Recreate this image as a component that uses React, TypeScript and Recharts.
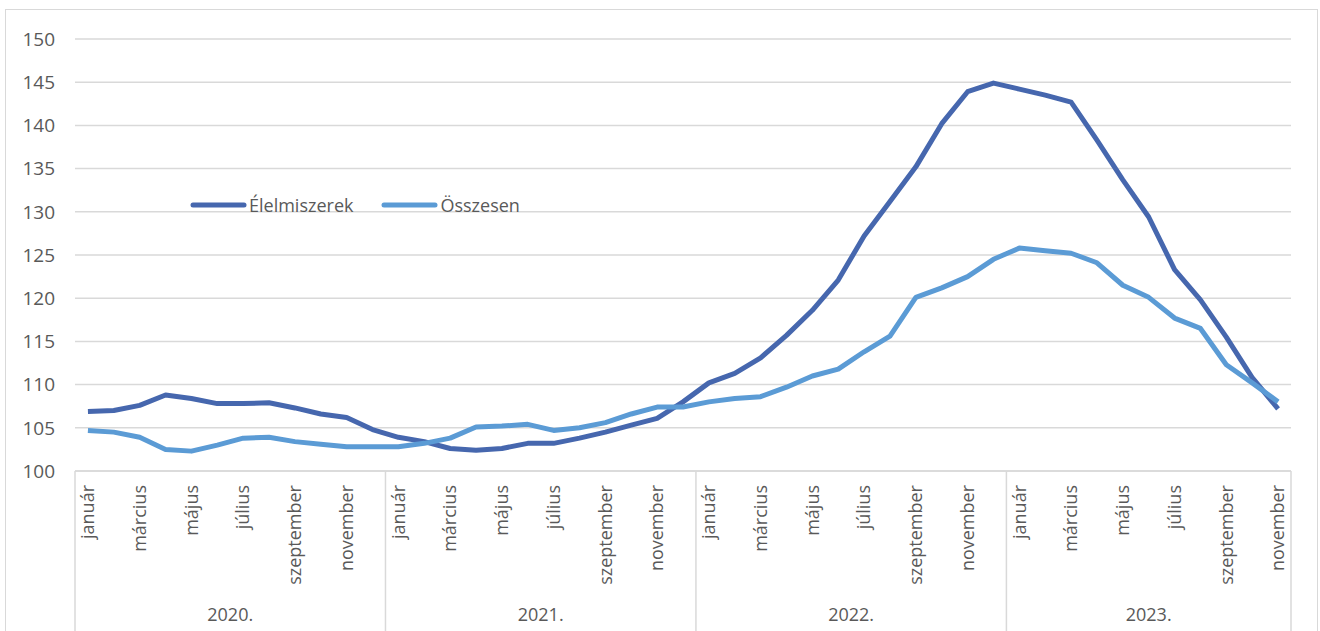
import { LineChart, Line, XAxis, YAxis, CartesianGrid, Legend } from 'recharts';

const monthNames = ['január', 'február', 'március', 'április', 'május', 'június', 'július', 'augusztus', 'szeptember', 'október', 'november', 'december'];
const yearLabels = ['2020.', '2021.', '2022.', '2023.'];
const monthsPerYear = [12, 12, 12, 11];

const elelmiszerek = [
  106.9, 107.0, 107.6, 108.8, 108.4, 107.8, 107.8, 107.9, 107.3, 106.6, 106.2, 104.8,
  103.9, 103.4, 102.6, 102.4, 102.6, 103.2, 103.2, 103.8, 104.5, 105.3, 106.1, 108.0,
  110.2, 111.3, 113.1, 115.7, 118.6, 122.1, 127.2, 131.2, 135.2, 140.2, 143.9, 144.9,
  144.2, 143.5, 142.7, 138.3, 133.7, 129.4, 123.3, 119.8, 115.5, 110.8, 107.2,
];

const osszesen = [
  104.7, 104.5, 103.9, 102.5, 102.3, 103.0, 103.8, 103.9, 103.4, 103.1, 102.8, 102.8,
  102.8, 103.2, 103.8, 105.1, 105.2, 105.4, 104.7, 105.0, 105.6, 106.6, 107.4, 107.4,
  108.0, 108.4, 108.6, 109.7, 111.0, 111.8, 113.8, 115.6, 120.1, 121.2, 122.5, 124.5,
  125.8, 125.5, 125.2, 124.1, 121.5, 120.1, 117.7, 116.5, 112.3, 110.2, 108.0,
];

const yTicks = [100, 105, 110, 115, 120, 125, 130, 135, 140, 145, 150];

const data: { key: string; month: string; year: string; yearIndex: number; elelmiszerek: number; osszesen: number }[] = [];
{
  let i = 0;
  yearLabels.forEach((year, yi) => {
    for (let m = 0; m < monthsPerYear[yi]; m++) {
      data.push({
        key: `${year}-${m}`,
        month: monthNames[m],
        year,
        yearIndex: yi,
        elelmiszerek: elelmiszerek[i],
        osszesen: osszesen[i],
      });
      i++;
    }
  });
}

const W = 1320;
const H = 631;
const M = { top: 39, right: 29, left: 0, bottom: 0 };
const Y_AXIS_W = 75;
const PLOT_W = W - M.left - M.right - Y_AXIS_W;
const BW = PLOT_W / data.length;
const AXIS_Y = 471;
const GRAY = '#d9d9d9';
const TEXT = '#595959';
const FONT = '"Open Sans", sans-serif';

const MonthTick = (props: any) => {
  const { x, index } = props;
  const d = data[index];
  if (!d) return null;
  const m = monthNames.indexOf(d.month);
  const parts: any[] = [];
  if (index % 2 === 0) {
    parts.push(
      <text key="m" x={x} y={AXIS_Y + 14} dy="0.35em" textAnchor="end" transform={`rotate(-90, ${x}, ${AXIS_Y + 14})`}
        fill={TEXT} fontSize={18} fontFamily={FONT}>{d.month}</text>
    );
  }
  if (m === 0) {
    const left = x - BW / 2;
    parts.push(<line key="s" x1={left} x2={left} y1={AXIS_Y} y2={H + 5} stroke={GRAY} strokeWidth={1.5} />);
    const count = monthsPerYear[d.yearIndex];
    parts.push(
      <text key="y" x={left + (count * BW) / 2} y={615} dy="0.35em" textAnchor="middle" fill={TEXT} fontSize={18} fontFamily={FONT}>
        {d.year}
      </text>
    );
  }
  if (index === data.length - 1) {
    const right = x + BW / 2;
    parts.push(<line key="e" x1={right} x2={right} y1={AXIS_Y} y2={H + 5} stroke={GRAY} strokeWidth={1.5} />);
  }
  return <g>{parts}</g>;
};

const LegendContent = (props: any) => {
  const { payload } = props;
  return (
    <div style={{ display: 'flex', alignItems: 'center', fontFamily: FONT, fontSize: 18, color: TEXT }}>
      {(payload || []).map((p: any, i: number) => (
        <div key={i} style={{ display: 'flex', alignItems: 'center', marginRight: 28 }}>
          <svg width={57} height={10}>
            <line x1={3} x2={54} y1={5} y2={5} stroke={p.color} strokeWidth={5} strokeLinecap="round" />
          </svg>
          <span style={{ marginLeft: 2 }}>{p.value}</span>
        </div>
      ))}
    </div>
  );
};

export default function App() {
  return (
    <div style={{ position: 'relative', width: W, height: H, overflow: 'hidden', background: '#fff' }}>
      <style>{`body{margin:0}`}</style>
      <div style={{ position: 'absolute', left: 5, top: 9, width: W - 7, height: H + 20, border: `1.5px solid ${GRAY}`, boxSizing: 'border-box' }} />
      <div style={{ position: 'absolute', left: 0, top: 0 }}>
        <LineChart width={W} height={H} data={data} margin={M}>
          <CartesianGrid vertical={false} stroke={GRAY} strokeWidth={1.5} />
          <XAxis dataKey="key" scale="band" interval={0} height={H - AXIS_Y} axisLine={{ stroke: GRAY, strokeWidth: 1.5 }}
            tickLine={false} tick={<MonthTick />} />
          <YAxis domain={[100, 150]} ticks={yTicks} width={Y_AXIS_W} axisLine={false} tickLine={false} tickSize={0} tickMargin={20}
            tick={{ fill: TEXT, fontSize: 19, fontFamily: FONT }} interval={0} />
          <Legend layout="horizontal" verticalAlign="middle" align="center" content={<LegendContent />}
            wrapperStyle={{ position: 'absolute', left: 190, top: 193, width: 'auto' }} />
          <Line dataKey="elelmiszerek" name="Élelmiszerek" stroke="#4667ae" strokeWidth={5} dot={false} isAnimationActive={false} strokeLinejoin="round" />
          <Line dataKey="osszesen" name="Összesen" stroke="#5b9bd5" strokeWidth={5} dot={false} isAnimationActive={false} strokeLinejoin="round" />
        </LineChart>
      </div>
    </div>
  );
}
